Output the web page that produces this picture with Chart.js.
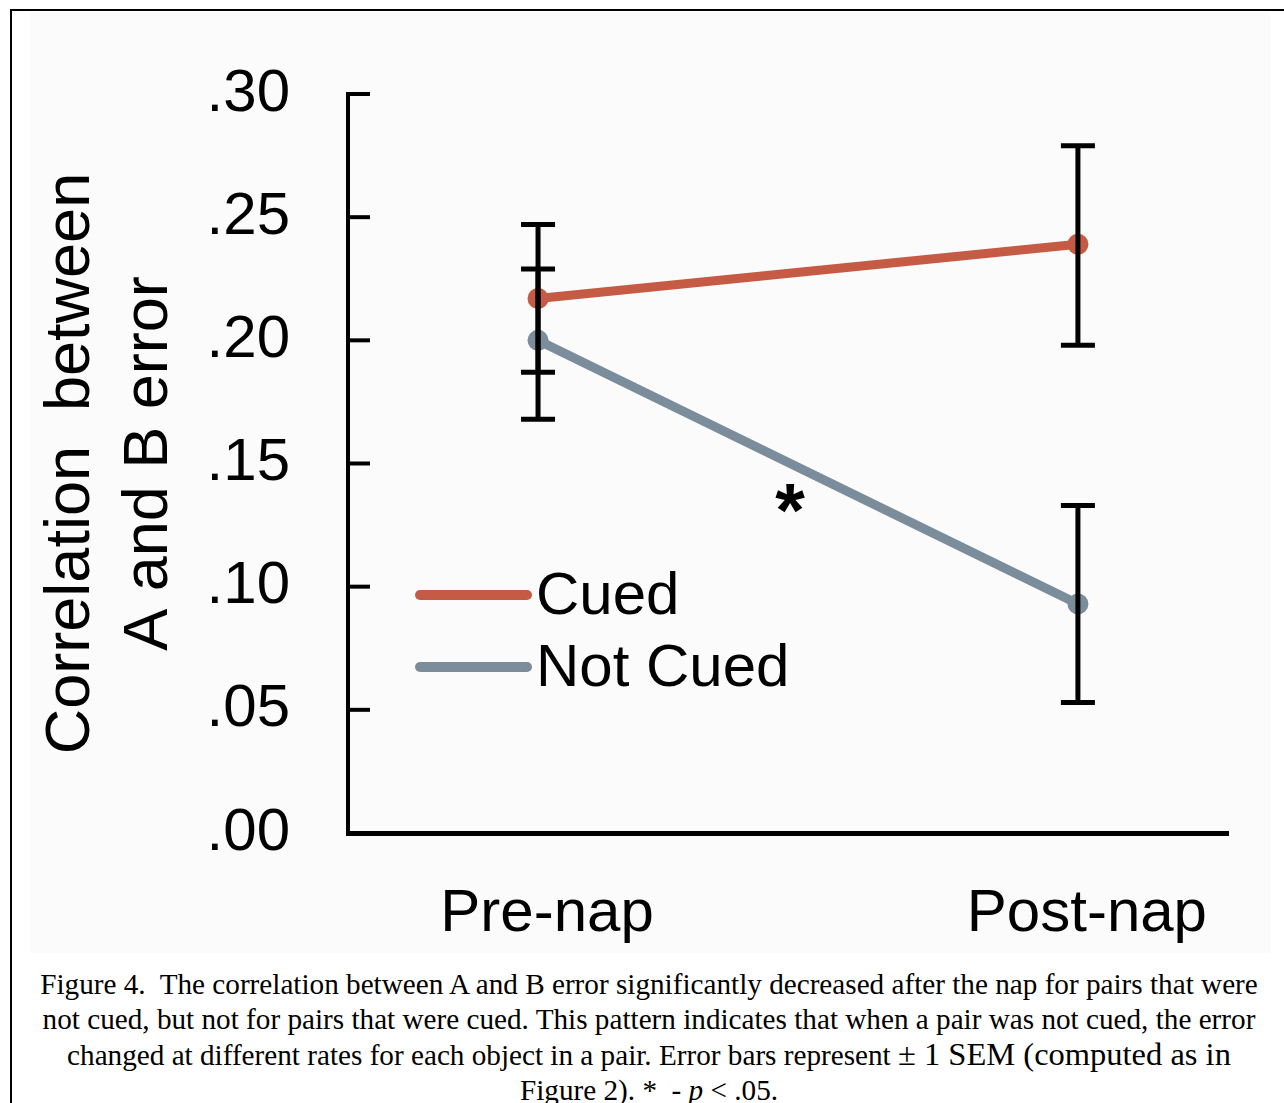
<!DOCTYPE html>
<html>
<head>
<meta charset="utf-8">
<script src="https://cdn.jsdelivr.net/npm/chart.js@4/dist/chart.umd.min.js"></script>
<style>
  html, body { margin: 0; padding: 0; background: #ffffff; }
  body { width: 1284px; height: 1103px; position: relative; overflow: hidden; }
  #frame { position: absolute; left: 10px; top: 9px; right: -10px; bottom: -10px;
           border-left: 2px solid #000; border-top: 2px solid #000; }
  #tint { position: absolute; left: 30px; top: 12px; width: 1241px; height: 941px; background: #fbfbfb; }
  #wrap { position: absolute; left: 0; top: 0; width: 1284px; height: 950px; }
  #caption { position: absolute; left: 0; top: 967px; width: 1298px; text-align: center;
             font-family: "Liberation Serif", "Times New Roman", serif; font-size: 29.2px;
             line-height: 35px; color: #000; white-space: nowrap; }
  #caption .big { font-size: 32.5px; }
</style>
</head>
<body>
<div id="tint"></div>
<div id="frame"></div>
<div id="wrap"><canvas id="c" width="1284" height="950"></canvas></div>
<div id="caption">
  Figure 4.&nbsp; The correlation between A and B error significantly decreased after the nap for pairs that were<br>
  not cued, but not for pairs that were cued. This pattern indicates that when a pair was not cued, the error<br>
  changed at different rates for each object in a pair. Error bars represent <span class="big">± 1 SEM (computed as in</span><br>
  Figure 2). *&nbsp; - <i>p</i> &lt; .05.
</div>
<script>
// ---- data ----
const categories = ['Pre-nap', 'Post-nap'];
const seriesLabels = ['Cued', 'Not Cued'];
const cuedMean = [0.217, 0.239];
const cuedLow = [0.187, 0.198];
const cuedHigh = [0.247, 0.279];
const notCuedMean = [0.200, 0.093];
const notCuedLow = [0.168, 0.053];
const notCuedHigh = [0.229, 0.133];
const yTickLabels = ['.00', '.05', '.10', '.15', '.20', '.25', '.30'];
const yTitle = ['Correlation  between', 'A and B error'];
const sigMark = { x: 0.467, y: 0.1356, text: '*' };

const cuedColor = '#c65b45';
const notCuedColor = '#7b8c9b';
const FONT = '"Liberation Sans", Arial, Helvetica, sans-serif';

function toPoints(vals) { return vals.map((v, i) => ({ x: i, y: v })); }

const errorBarPlugin = {
  id: 'errorBars',
  afterDatasetsDraw(chart) {
    const { ctx, scales: { x, y } } = chart;
    const sets = [[cuedMean, cuedLow, cuedHigh], [notCuedMean, notCuedLow, notCuedHigh]];
    ctx.save();
    ctx.strokeStyle = '#000';
    ctx.lineWidth = 5;
    ctx.lineCap = 'butt';
    sets.forEach(([m, lo, hi]) => {
      m.forEach((_, i) => {
        const px = x.getPixelForValue(i);
        const pLo = y.getPixelForValue(lo[i]);
        const pHi = y.getPixelForValue(hi[i]);
        ctx.beginPath();
        ctx.moveTo(px, pLo); ctx.lineTo(px, pHi);
        ctx.moveTo(px - 17, pLo); ctx.lineTo(px + 17, pLo);
        ctx.moveTo(px - 17, pHi); ctx.lineTo(px + 17, pHi);
        ctx.stroke();
      });
    });
    // significance mark
    ctx.fillStyle = '#000';
    ctx.font = 'bold 76px ' + FONT;
    ctx.textAlign = 'center';
    ctx.textBaseline = 'alphabetic';
    const m = ctx.measureText(sigMark.text);
    const cx = x.getPixelForValue(sigMark.x);
    const cy = y.getPixelForValue(sigMark.y);
    const off = (m.actualBoundingBoxAscent - m.actualBoundingBoxDescent) / 2;
    ctx.fillText(sigMark.text, cx, cy + off);
    ctx.restore();
  }
};

const yTickMarks = {
  id: 'yTickMarks',
  afterDraw(chart) {
    const { ctx, scales: { y } } = chart;
    ctx.save();
    ctx.strokeStyle = '#000';
    ctx.lineWidth = 4;
    y.ticks.forEach(t => {
      if (t.value === 0) return;
      const py = y.getPixelForValue(t.value);
      ctx.beginPath();
      ctx.moveTo(y.right - 2, py);
      ctx.lineTo(y.right + 22, py);
      ctx.stroke();
    });
    ctx.restore();
  }
};

const innerLegend = {
  id: 'innerLegend',
  afterDraw(chart) {
    const { ctx, chartArea } = chart;
    ctx.save();
    ctx.font = '60px ' + FONT;
    ctx.textBaseline = 'middle';
    ctx.textAlign = 'left';
    chart.data.datasets.forEach((ds, i) => {
      const yy = chartArea.top + 501 + i * 72;
      const x0 = chartArea.left + 72;
      ctx.strokeStyle = ds.borderColor;
      ctx.lineWidth = 10;
      ctx.lineCap = 'round';
      ctx.beginPath();
      ctx.moveTo(x0, yy); ctx.lineTo(x0 + 107, yy);
      ctx.stroke();
      ctx.fillStyle = '#000';
      ctx.fillText(ds.label, x0 + 116, yy + 2);
    });
    ctx.restore();
  }
};

new Chart(document.getElementById('c'), {
  type: 'line',
  data: {
    datasets: [
      { label: seriesLabels[0], data: toPoints(cuedMean), borderColor: cuedColor, backgroundColor: cuedColor,
        pointBackgroundColor: cuedColor, borderWidth: 9, pointRadius: 10.5, pointBorderWidth: 0, borderCapStyle: 'round' },
      { label: seriesLabels[1], data: toPoints(notCuedMean), borderColor: notCuedColor, backgroundColor: notCuedColor,
        pointBackgroundColor: notCuedColor, borderWidth: 9, pointRadius: 10.5, pointBorderWidth: 0, borderCapStyle: 'round' }
    ]
  },
  options: {
    responsive: false,
    animation: false,
    layout: { padding: { top: 92, right: 56, bottom: 0, left: 0 } },
    plugins: { legend: { display: false }, tooltip: { enabled: false } },
    scales: {
      x: {
        type: 'linear',
        min: -0.352, max: 1.278,
        afterBuildTicks: s => { s.ticks = categories.map((_, i) => ({ value: i })); },
        afterFit: s => { s.height = 117; },
        grid: { display: false, drawTicks: false },
        border: { display: true, color: '#000', width: 5 },
        ticks: { padding: 45, labelOffset: 9, color: '#000', font: { family: FONT, size: 60 },
                 callback: v => categories[v] }
      },
      y: {
        min: 0, max: 0.3,
        afterFit: s => { s.width = 348; },
        grid: { display: false, drawTicks: false },
        border: { display: true, color: '#000', width: 4 },
        ticks: { stepSize: 0.05, padding: 58, color: '#000', font: { family: FONT, size: 60 },
                 callback: (v, i) => yTickLabels[i] },
        title: { display: true, text: yTitle, color: '#000', padding: { top: 33, bottom: 0 },
                 font: { family: FONT, size: 63, lineHeight: 1.238 } }
      }
    }
  },
  plugins: [errorBarPlugin, yTickMarks, innerLegend]
});
</script>
</body>
</html>
